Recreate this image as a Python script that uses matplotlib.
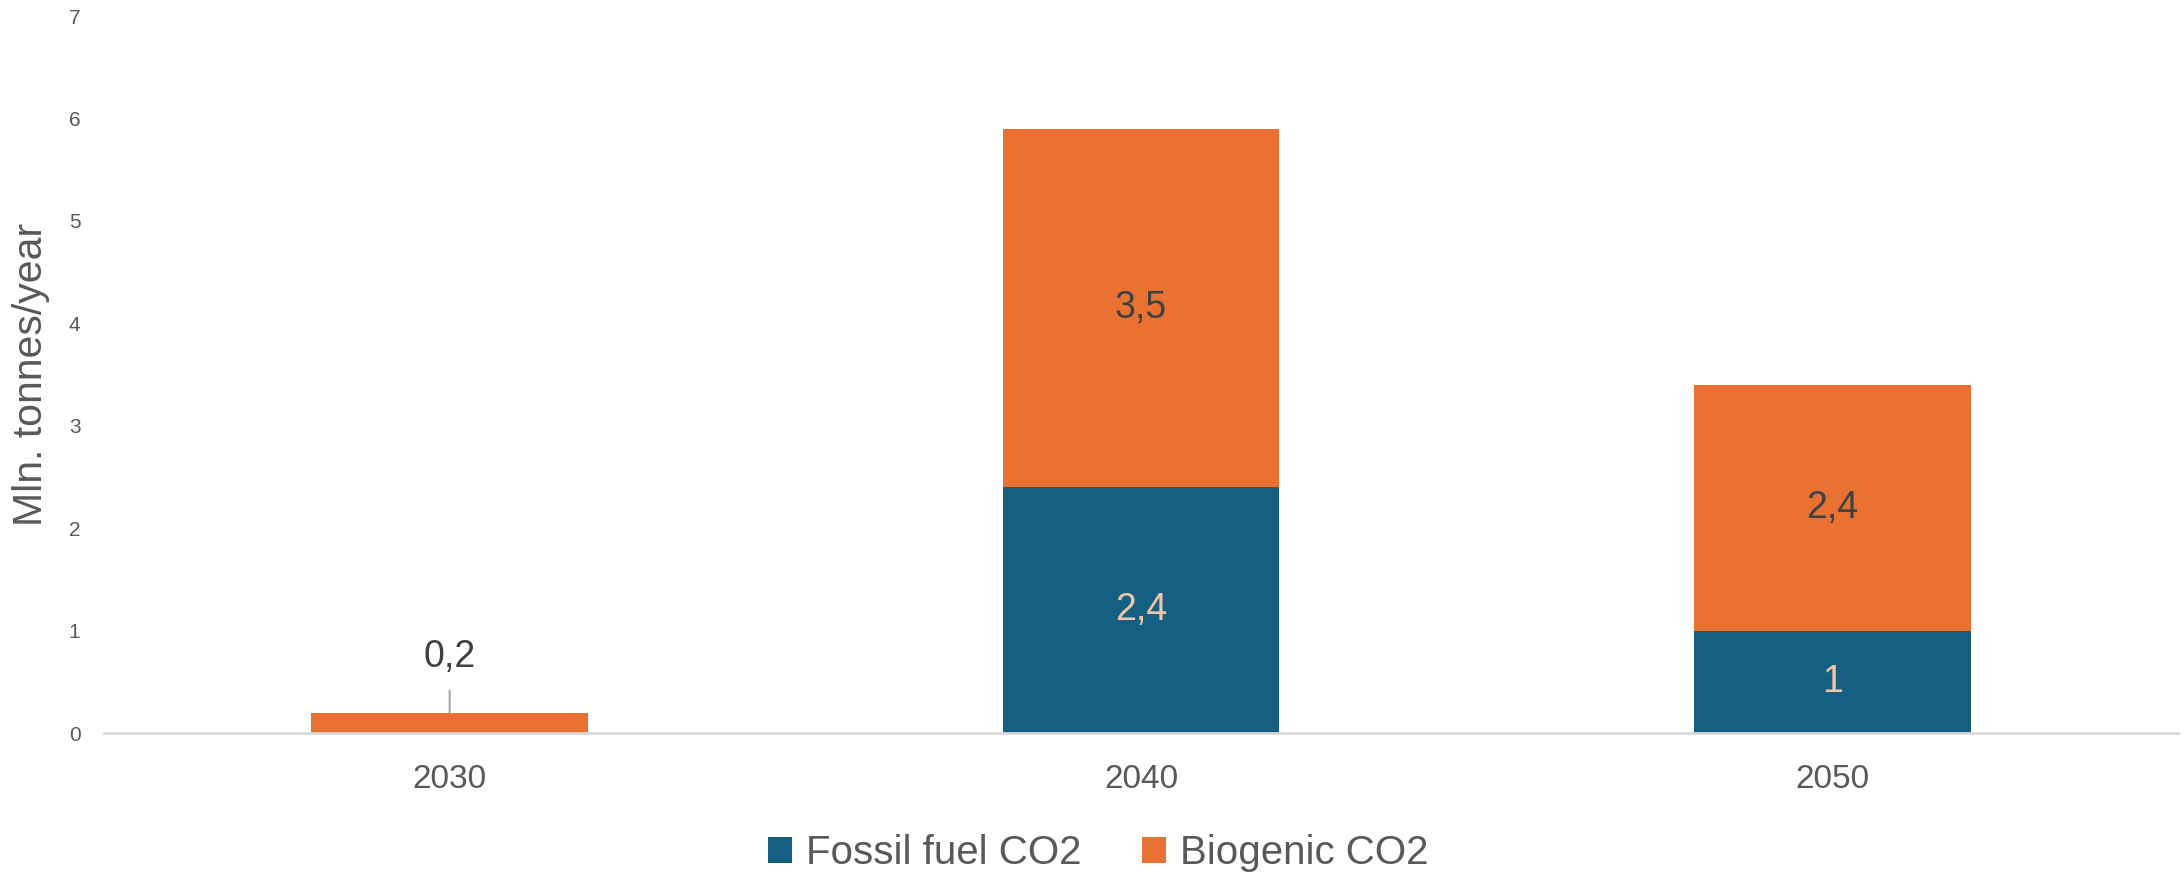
import matplotlib
matplotlib.use("Agg")
import matplotlib.pyplot as plt
import numpy as np

categories = ["2030", "2040", "2050"]
fossil = [0.0, 2.4, 1.0]
biogenic = [0.2, 3.5, 2.4]
fossil_labels = ["", "2,4", "1"]
biogenic_labels = ["0,2", "3,5", "2,4"]
series_names = ["Fossil fuel CO2", "Biogenic CO2"]
y_ticks = [0, 1, 2, 3, 4, 5, 6, 7]

BLUE = "#156082"
ORANGE = "#E97132"

plt.rcParams['font.family'] = ['Liberation Sans', 'DejaVu Sans']

fig = plt.figure(figsize=(21.81, 8.72), dpi=100)
ax = fig.add_axes([104/2181, 1-733/872, (2178-104)/2181, (733-16)/872])

x = np.arange(len(categories))
w = 0.4
b1 = ax.bar(x, fossil, w, color=BLUE, label=series_names[0], zorder=2)
b2 = ax.bar(x, biogenic, w, bottom=fossil, color=ORANGE, label=series_names[1], zorder=2)

ax.set_xlim(-0.5, len(categories) - 0.5)
ax.set_ylim(0, 7)
ax.set_yticks(y_ticks)
ax.set_yticklabels([str(t) for t in y_ticks])
ax.set_xticks(x)
ax.set_xticklabels(categories)
ax.tick_params(axis='y', length=0, pad=17, labelsize=15, labelcolor="#595959")
ax.tick_params(axis='x', length=0, pad=22, labelsize=24, labelcolor="#595959")
for s in ["top", "right", "left"]:
    ax.spines[s].set_visible(False)
ax.spines["bottom"].set_color("#D9D9D9")
ax.spines["bottom"].set_linewidth(2)
ax.spines["bottom"].set_zorder(3)

# labels
for i in range(len(categories)):
    if fossil[i] > 0:
        ax.text(x[i], fossil[i] / 2, fossil_labels[i], ha="center", va="center",
                fontsize=27, color="#F2C4A8")
    if biogenic[i] >= 1:
        ax.text(x[i], fossil[i] + biogenic[i] / 2, biogenic_labels[i], ha="center",
                va="center", fontsize=27, color="#404040")
    else:
        top = fossil[i] + biogenic[i]
        ax.annotate(biogenic_labels[i], xy=(x[i], top), xytext=(x[i], top + 0.54),
                    ha="center", va="center", fontsize=27, color="#404040",
                    arrowprops=dict(arrowstyle="-", color="#A6A6A6", lw=1.5,
                                    shrinkA=9, shrinkB=0))

ax.set_ylabel("Mln. tonnes/year", fontsize=29.5, color="#595959", va="center")
ax.yaxis.set_label_coords(31/2181, 1-374/872, transform=fig.transFigure)

leg = fig.legend(handles=[b1, b2], labels=series_names, loc="center",
                 bbox_to_anchor=(1098/2181, 1-853/872), ncol=2, frameon=False,
                 fontsize=29, handlelength=0.6, handleheight=0.6,
                 handletextpad=0.35, columnspacing=1.5, labelcolor="#595959")

fig.savefig("out.png", dpi=100)
